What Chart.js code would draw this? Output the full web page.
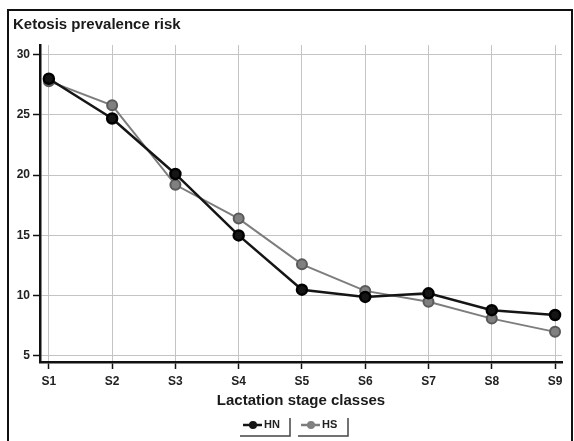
<!DOCTYPE html>
<html>
<head>
<meta charset="utf-8">
<script src="https://cdn.jsdelivr.net/npm/chart.js@4"></script>
<style>
  html, body { margin: 0; padding: 0; background: #fff; }
  #wrap { width: 574px; height: 441px; }
</style>
</head>
<body>
<div id="wrap"><canvas id="ketosisChart" width="574" height="441"></canvas></div>
<script>
// values
const stages = ['S1', 'S2', 'S3', 'S4', 'S5', 'S6', 'S7', 'S8', 'S9'];
const hnValues = [28.0, 24.7, 20.1, 15.0, 10.5, 9.9, 10.2, 8.8, 8.4];
const hsValues = [27.8, 25.8, 19.2, 16.4, 12.6, 10.4, 9.5, 8.1, 7.0];
const yTicks = [5, 10, 15, 20, 25, 30];

const FONT = 'Liberation Sans, Arial, sans-serif';

const toPoints = vals => vals.map((v, i) => ({ x: i + 1, y: v }));

// frame, title and the little bracket legend
const decorations = {
    id: 'decorations',
    afterDraw(chart) {
        const ctx = chart.ctx;
        ctx.save();
        ctx.strokeStyle = '#111';
        ctx.lineWidth = 2;
        ctx.beginPath();
        ctx.moveTo(8, 445);
        ctx.lineTo(8, 10);
        ctx.lineTo(572, 10);
        ctx.lineTo(572, 445);
        ctx.stroke();

        ctx.fillStyle = '#1a1a1a';
        ctx.font = 'bold 15px ' + FONT;
        ctx.textBaseline = 'middle';
        ctx.fillText('Ketosis prevalence risk', 13, 25);

        const items = chart.data.datasets;
        let x = 243;
        const y = 425;
        items.forEach(ds => {
            ctx.strokeStyle = ds.borderColor;
            ctx.lineWidth = 2.5;
            ctx.beginPath();
            ctx.moveTo(x, y);
            ctx.lineTo(x + 19, y);
            ctx.stroke();
            ctx.fillStyle = ds.pointBackgroundColor;
            ctx.beginPath();
            ctx.arc(x + 10, y, 4, 0, Math.PI * 2);
            ctx.fill();
            ctx.fillStyle = '#222';
            ctx.font = 'bold 11px ' + FONT;
            ctx.fillText(ds.label, x + 21, y);
            ctx.strokeStyle = '#444';
            ctx.lineWidth = 1.5;
            ctx.beginPath();
            ctx.moveTo(x - 3, y + 11);
            ctx.lineTo(x + 47, y + 11);
            ctx.lineTo(x + 47, y - 7);
            ctx.stroke();
            x += 58;
        });
        ctx.restore();
    }
};

new Chart(document.getElementById('ketosisChart').getContext('2d'), {
    type: 'line',
    data: {
        datasets: [{
            label: 'HN',
            data: toPoints(hnValues),
            borderColor: '#151515',
            backgroundColor: '#151515',
            pointBackgroundColor: '#151515',
            pointBorderColor: '#000',
            borderWidth: 2.5,
            pointRadius: 5,
            tension: 0
        }, {
            label: 'HS',
            data: toPoints(hsValues),
            borderColor: '#7d7d7d',
            backgroundColor: '#7d7d7d',
            pointBackgroundColor: '#808080',
            pointBorderColor: '#5a5a5a',
            borderWidth: 2,
            pointRadius: 5,
            tension: 0
        }]
    },
    options: {
        responsive: false,
        animation: false,
        layout: { padding: { top: 45, right: 12, left: 0, bottom: 31 } },
        plugins: { legend: { display: false }, tooltip: { enabled: false } },
        scales: {
            x: {
                type: 'linear',
                min: 0.86,
                max: 9.11,
                afterBuildTicks: s => { s.ticks = stages.map((_, i) => ({ value: i + 1 })); },
                afterFit: s => { s.height = 48; },
                ticks: {
                    callback: v => stages[v - 1],
                    color: '#222',
                    font: { family: FONT, size: 12, weight: 'bold' },
                    padding: 5
                },
                grid: {
                    color: '#c4c4c4',
                    lineWidth: 1,
                    tickColor: '#111',
                    tickLength: 7,
                    tickWidth: 1.5
                },
                border: { color: '#111', width: 2.5, dash: [] },
                title: {
                    display: true,
                    text: 'Lactation stage classes',
                    color: '#1a1a1a',
                    font: { family: FONT, size: 15, weight: 'bold' },
                    padding: { top: 0, bottom: 0 }
                }
            },
            y: {
                min: 4.5,
                max: 30.8,
                afterBuildTicks: s => { s.ticks = yTicks.map(v => ({ value: v })); },
                afterFit: s => { s.width = 40; },
                ticks: {
                    color: '#222',
                    font: { family: FONT, size: 12, weight: 'bold' },
                    padding: 3
                },
                grid: {
                    color: '#c4c4c4',
                    lineWidth: 1,
                    tickColor: '#111',
                    tickLength: 7,
                    tickWidth: 1.5
                },
                border: { color: '#111', width: 2.5 }
            }
        }
    },
    plugins: [decorations]
});
</script>
</body>
</html>
